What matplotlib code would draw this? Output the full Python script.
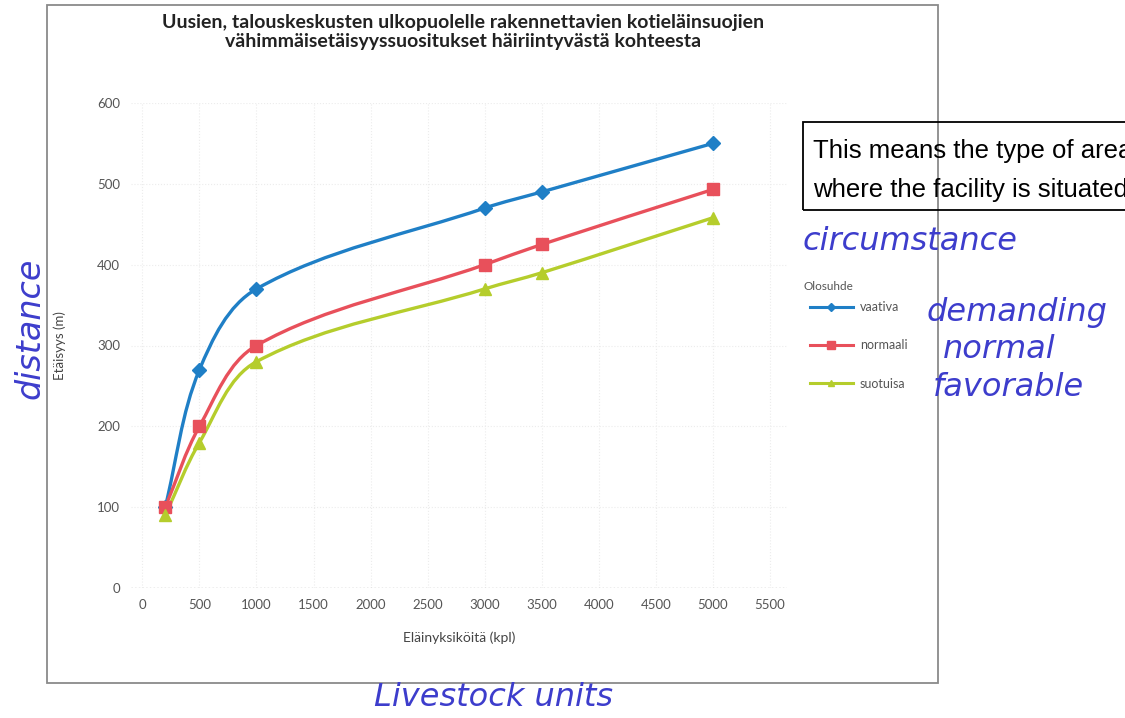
import numpy as np
import matplotlib
matplotlib.use("Agg")
import matplotlib.pyplot as plt
from matplotlib.patches import PathPatch, Rectangle
from matplotlib.path import Path

# livestock units on x, minimum distance (m) on y
units = [200, 500, 1000, 3000, 3500, 5000]
vaativa = [100, 270, 370, 470, 490, 550]
normaali = [100, 200, 300, 400, 425, 493]
suotuisa = [90, 180, 280, 370, 390, 458]

series = [vaativa, normaali, suotuisa]
names = ["vaativa", "normaali", "suotuisa"]
notes = ["demanding", "normal", "favorable"]
colors = ["#1f7fc6", "#e8505b", "#b5cd2c"]
markers = ["D", "s", "^"]
msizes = [7, 9, 8]

x_ticks = list(range(0, 5501, 500))
y_ticks = list(range(0, 601, 100))

title = ("Uusien, talouskeskusten ulkopuolelle rakennettavien kotieläinsuojien\n"
         "vähimmäisetäisyyssuositukset häiriintyvästä kohteesta")

W, H = 1125, 718
fig = plt.figure(figsize=(W / 100, H / 100), dpi=100)
ink = "#3d3dcc"
hand = dict(family="DejaVu Sans", style="oblique", color=ink)
grey = "#555555"


def fx(x):
    return x / W


def fy(y):
    return 1 - y / H


ax = fig.add_axes([fx(131), fy(588), (787 - 131) / W, (588 - 103) / H])
ax.set_xlim(-100, 5650)
ax.set_ylim(0, 600)
ax.set_xticks(x_ticks)
ax.set_yticks(y_ticks)
for s in ax.spines.values():
    s.set_visible(False)
ax.tick_params(length=0, labelsize=9.5, labelcolor=grey, pad=8)
for lab in ax.get_xticklabels() + ax.get_yticklabels():
    lab.set_family("Lato")
ax.grid(color="#ececec", linestyle=":", linewidth=0.8)
ax.axhline(0, color="#aaaaaa", linestyle=":", linewidth=1.0)
ax.set_xlabel("Eläinyksiköitä (kpl)", fontsize=10, color="#444444",
              family="Lato", labelpad=15)
ax.set_ylabel("Etäisyys (m)", fontsize=9.5, color="#444444",
              family="Lato", labelpad=22)


def smooth_path(xs, ys):
    # smoothed bezier through the points, tangents built in screen space
    pts = ax.transData.transform(np.column_stack([xs, ys]))
    n = len(pts)
    tang = []
    for i in range(n):
        d = pts[min(i + 1, n - 1)] - pts[max(i - 1, 0)]
        tang.append(d / np.hypot(*d))
    verts = [pts[0]]
    codes = [Path.MOVETO]
    for i in range(n - 1):
        seg = np.hypot(*(pts[i + 1] - pts[i])) / 3
        verts += [pts[i] + tang[i] * seg, pts[i + 1] - tang[i + 1] * seg,
                  pts[i + 1]]
        codes += [Path.CURVE4] * 3
    verts = ax.transData.inverted().transform(np.array(verts))
    return Path(verts, codes)


handles = []
for ys, name, c, m, ms in zip(series, names, colors, markers, msizes):
    ax.add_patch(PathPatch(smooth_path(units, ys), fill=False,
                           edgecolor=c, linewidth=2.4, zorder=3))
    ax.plot(units, ys, linestyle="none", marker=m, markersize=ms,
            color=c, zorder=4)
    handles.append(plt.Line2D([], [], color=c, linewidth=2.2, marker=m,
                              markersize=ms - 3, label=name))

# legend: title set as its own text so the row gap can stay wide
fig.text(fx(803), fy(287), "Olosuhde", fontsize=8.5, color=grey,
         family="Lato", va="center")
leg = fig.legend(handles=handles, loc="upper left",
                 bbox_to_anchor=(fx(810), fy(301)), frameon=False,
                 fontsize=9, handlelength=3.4, handletextpad=0.6,
                 labelspacing=2.1, borderpad=0, borderaxespad=0)
for t in leg.get_texts():
    t.set_color(grey)
    t.set_family("Lato")

fig.text(fx(463), fy(32), title, ha="center", va="center", fontsize=14,
         weight="bold", family="Lato", color="#222222", linespacing=1.2)

# scanned page frame around the chart
fig.add_artist(Rectangle((fx(47), fy(683)), (938 - 47) / W, (683 - 5) / H,
                         transform=fig.transFigure, fill=False,
                         edgecolor="#8a8a8a", linewidth=1.3))

# typed note box, running off the right edge of the page
fig.add_artist(Rectangle((fx(803), fy(210)), 340 / W, (210 - 122) / H,
                         transform=fig.transFigure, fill=False,
                         edgecolor="black", linewidth=1.3))
fig.text(fx(813), fy(151), "This means the type of area", fontsize=18.5,
         family="Liberation Sans", va="center")
fig.text(fx(813), fy(190), "where the facility is situated", fontsize=18.5,
         family="Liberation Sans", va="center")

# handwritten translations
fig.text(fx(803), fy(242), "circumstance", fontsize=23, va="center", **hand)
fig.text(fx(30), fy(328), "distance", fontsize=24, rotation=90,
         ha="center", va="center", **hand)
fig.text(fx(494), fy(698), "Livestock units", fontsize=23, ha="center",
         va="center", **hand)
for note, x, y in zip(notes, [927, 943, 933], [312, 349, 387]):
    fig.text(fx(x), fy(y), note, fontsize=23, va="center", **hand)

fig.savefig("out.png", dpi=100)
